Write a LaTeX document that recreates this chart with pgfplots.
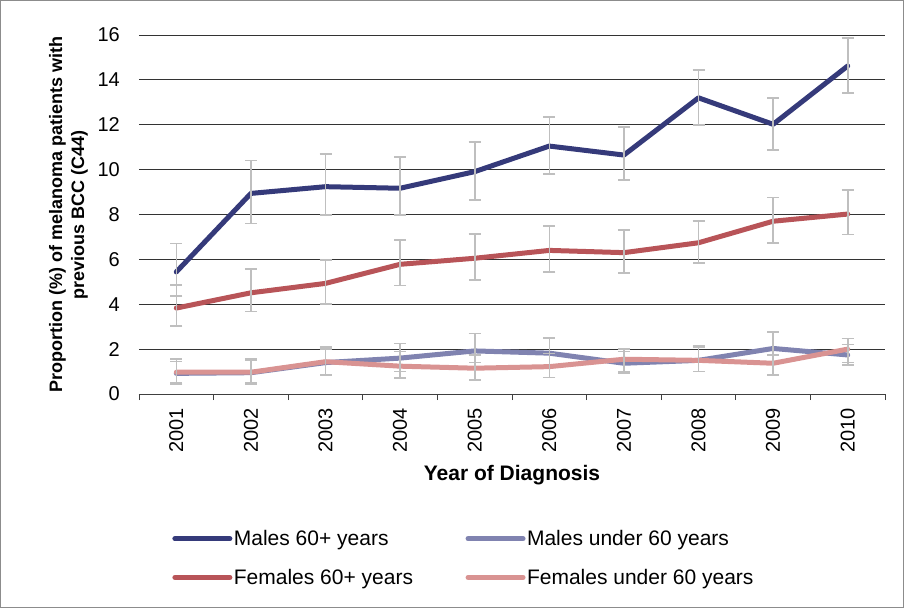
\documentclass[border=0pt]{standalone}
\usepackage{pgfplots}
\pgfplotsset{compat=1.18}
\usepackage{fontspec}
\setmainfont{Liberation Sans}
\definecolor{mnavy}{HTML}{353A7A}
\definecolor{mlav}{HTML}{8083B0}
\definecolor{fred}{HTML}{B85458}
\definecolor{fpink}{HTML}{D99392}
\definecolor{errgray}{HTML}{BFBFBF}
\begin{document}
\begin{tikzpicture}
\begin{axis}[
  scale only axis,
  width=746pt, height=359pt,
  xmin=0.5, xmax=10.5,
  ymin=0, ymax=16,
  ytick={0,2,...,16},
  xtick={1,...,10},
  xticklabels={2001,2002,2003,2004,2005,2006,2007,2008,2009,2010},
  minor xtick={0.5,1.5,...,10.5},
  axis x line*=bottom,
  axis y line*=left,
  y axis line style={draw=none},
  x axis line style={draw=black!75, line width=0.8pt},
  major tick length=0pt,
  minor tick length=6pt,
  xtick style={draw=none},
  minor x tick style={draw=black!75, line width=0.8pt},
  tick align=outside,
  ymajorgrids,
  grid style={draw=black!80, line width=0.8pt},
  ytick style={draw=none},
  font=\fontsize{21}{25}\selectfont,
  tick label style={font=\fontsize{20}{24}\selectfont, inner sep=0pt},
  /pgf/number format/assume math mode=true,
  x tick label style={rotate=90, anchor=east},
  xticklabel shift=14pt,
  y tick label style={anchor=east},
  yticklabel shift=19pt,
  xlabel={\textbf{Year of Diagnosis}},
  xlabel style={font=\fontsize{21}{25}\selectfont, at={(axis description cs:0.5,-0.226)}, anchor=center},
  ylabel={\textbf{Proportion (\%) of melanoma patients with}\\\textbf{previous BCC (C44)}},
  ylabel style={font=\fontsize{18}{22}\selectfont, align=center, at={(axis description cs:-0.0945,0.5)}, anchor=center},
  legend columns=2,
  legend style={draw=none, fill=none, at={(axis description cs:0.0445,-0.375)}, anchor=north west,
    font=\fontsize{21}{25}\selectfont, inner sep=0pt,
    nodes={inner sep=1.5pt},
    /tikz/every even column/.append style={column sep=51pt},
    row sep=19pt},
  legend cell align=left,
  legend image code/.code={\draw[#1] (0pt,0pt) -- (55pt,0pt);},
  every axis plot/.append style={line width=5pt, line join=round, line cap=round},
  error bars/y dir=both,
  error bars/y explicit,
  error bars/error bar style={draw=errgray, line width=1.6pt, line cap=butt},
  error bars/error mark options={rotate=90, mark size=6pt, draw=errgray, line width=1.6pt},
  clip=false,
]
% Males aged 60 and over
\addplot[mnavy] coordinates {
  (1,5.44)  += (0,1.26) -= (0,1.07)
  (2,8.94)  += (0,1.46) -= (0,1.34)
  (3,9.24)  += (0,1.46) -= (0,1.27)
  (4,9.17)  += (0,1.39) -= (0,1.20)
  (5,9.91)  += (0,1.32) -= (0,1.27)
  (6,11.05) += (0,1.29) -= (0,1.25)
  (7,10.65) += (0,1.25) -= (0,1.11)
  (8,13.20) += (0,1.24) -= (0,1.20)
  (9,12.02) += (0,1.17) -= (0,1.15)
  (10,14.62) += (0,1.24) -= (0,1.21)
};
\addlegendentry{Males 60+ years}
% Males under 60
\addplot[mlav] coordinates {
  (1,0.92) += (0,0.53) -= (0,0.47)
  (2,0.95) += (0,0.55) -= (0,0.45)
  (3,1.40) += (0,0.60) -= (0,0.55)
  (4,1.60) += (0,0.65) -= (0,0.60)
  (5,1.92) += (0,0.78) -= (0,0.52)
  (6,1.82) += (0,0.68) -= (0,0.62)
  (7,1.37) += (0,0.53) -= (0,0.44)
  (8,1.50) += (0,0.60) -= (0,0.50)
  (9,2.03) += (0,0.73) -= (0,0.68)
  (10,1.74) += (0,0.46) -= (0,0.44)
};
\addlegendentry{Males under 60 years}
% Females aged 60 and over
\addplot[fred] coordinates {
  (1,3.83) += (0,1.03) -= (0,0.80)
  (2,4.51) += (0,1.06) -= (0,0.84)
  (3,4.93) += (0,1.04) -= (0,0.92)
  (4,5.78) += (0,1.08) -= (0,0.95)
  (5,6.05) += (0,1.08) -= (0,0.97)
  (6,6.40) += (0,1.09) -= (0,0.95)
  (7,6.30) += (0,1.01) -= (0,0.91)
  (8,6.74) += (0,0.98) -= (0,0.91)
  (9,7.70) += (0,1.05) -= (0,0.96)
  (10,8.02) += (0,1.07) -= (0,0.92)
};
\addlegendentry{Females 60+ years}
% Females under 60
\addplot[fpink] coordinates {
  (1,0.97) += (0,0.58) -= (0,0.47)
  (2,0.97) += (0,0.58) -= (0,0.52)
  (3,1.44) += (0,0.66) -= (0,0.59)
  (4,1.24) += (0,0.66) -= (0,0.54)
  (5,1.15) += (0,0.60) -= (0,0.53)
  (6,1.22) += (0,0.58) -= (0,0.49)
  (7,1.55) += (0,0.45) -= (0,0.55)
  (8,1.50) += (0,0.67) -= (0,0.50)
  (9,1.37) += (0,0.37) -= (0,0.52)
  (10,2.00) += (0,0.48) -= (0,0.60)
};
\addlegendentry{Females under 60 years}
\end{axis}
% chart area frame
\draw[black!45, line width=0.8pt] (-138.6pt,-213.6pt) rectangle (764.6pt,393.6pt);
\useasboundingbox (-139pt,-214pt) rectangle (765pt,394pt);
\end{tikzpicture}
\end{document}
